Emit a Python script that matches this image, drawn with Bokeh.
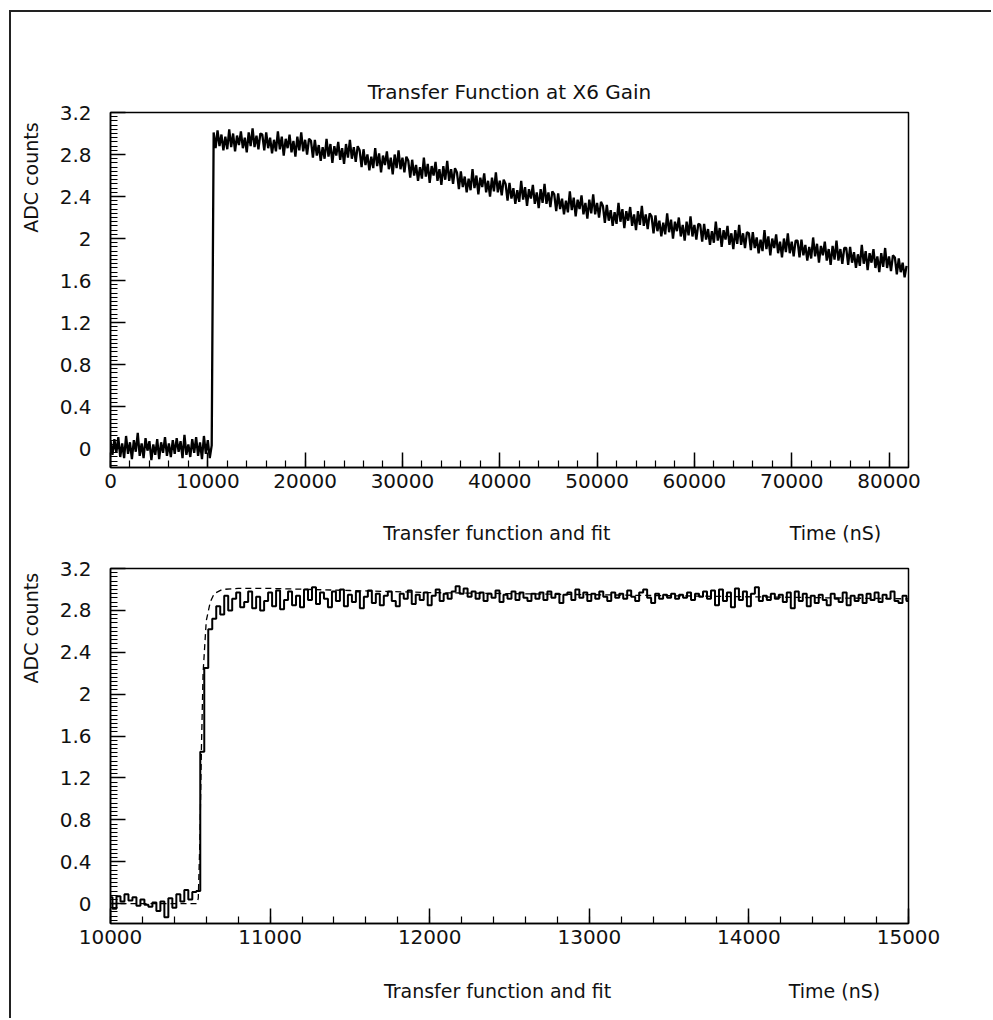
import numpy as np
from bokeh.plotting import figure
from bokeh.layouts import column
from bokeh.models import FixedTicker, LinearAxis, Range1d, Title
from bokeh.embed import file_html
from bokeh.resources import INLINE

FONT = "DejaVu Sans"

# ---------------- data ----------------
title_text = "Transfer Function at X6 Gain"
xlabel_text = "Transfer function and fit"
xunit_text = "Time (nS)"
ylabel_text = "ADC counts"

# Top panel: ADC counts sampled every 200 ns from t = 0
top_t0 = 0
top_dt = 200
top_baseline = [
    0.07, -0.06, 0.09, -0.04, 0.11, -0.08, 0.05, -0.09, 0.12, -0.05,
    0.06, -0.10, 0.08, -0.03, 0.15, -0.07, 0.05, -0.09, 0.10, -0.02,
    0.07, -0.11, 0.04, -0.06, 0.09, -0.10, 0.06, -0.04, 0.11, -0.07,
    0.05, -0.08, 0.08, -0.05, 0.10, -0.03, 0.07, -0.09, 0.13, -0.06,
    0.04, -0.08, 0.09, -0.04, 0.11, -0.07, 0.06, -0.10, 0.12, -0.05,
    0.08, -0.09, 0.03,
]
top_pulse = [
    3.01, 2.86, 3.03, 2.88, 2.99, 2.84, 2.97, 2.85, 3.04, 2.87, 3.00, 2.83, 2.98, 2.89, 3.02, 2.86, 2.96, 2.82, 3.01, 2.88, 3.05, 2.87, 2.98, 2.85, 3.00,
    2.99, 2.84, 3.01, 2.86, 2.96, 2.81, 2.94, 2.83, 3.02, 2.85, 2.97, 2.79, 2.95, 2.86, 2.99, 2.82, 2.93, 2.78, 2.97, 2.84, 3.01, 2.83, 2.94, 2.80, 2.95,
    2.93, 2.77, 2.94, 2.79, 2.89, 2.74, 2.87, 2.76, 2.95, 2.78, 2.90, 2.72, 2.88, 2.79, 2.92, 2.75, 2.86, 2.71, 2.90, 2.77, 2.94, 2.76, 2.87, 2.73, 2.88,
    2.84, 2.68, 2.85, 2.70, 2.80, 2.65, 2.78, 2.67, 2.86, 2.69, 2.81, 2.63, 2.79, 2.70, 2.83, 2.66, 2.77, 2.61, 2.80, 2.67, 2.84, 2.66, 2.77, 2.63, 2.78,
    2.74, 2.58, 2.75, 2.60, 2.70, 2.55, 2.68, 2.57, 2.77, 2.59, 2.71, 2.53, 2.69, 2.60, 2.73, 2.55, 2.66, 2.51, 2.69, 2.56, 2.74, 2.55, 2.66, 2.52, 2.67,
    2.63, 2.47, 2.64, 2.49, 2.59, 2.44, 2.57, 2.46, 2.66, 2.48, 2.60, 2.42, 2.58, 2.49, 2.62, 2.44, 2.55, 2.40, 2.58, 2.45, 2.63, 2.44, 2.55, 2.41, 2.56,
    2.52, 2.36, 2.53, 2.38, 2.48, 2.33, 2.46, 2.35, 2.55, 2.37, 2.49, 2.31, 2.47, 2.38, 2.51, 2.33, 2.44, 2.29, 2.47, 2.34, 2.52, 2.33, 2.44, 2.30, 2.45,
    2.42, 2.26, 2.43, 2.28, 2.38, 2.23, 2.36, 2.25, 2.45, 2.27, 2.39, 2.21, 2.37, 2.28, 2.41, 2.23, 2.34, 2.19, 2.37, 2.24, 2.42, 2.23, 2.34, 2.20, 2.35,
    2.31, 2.15, 2.32, 2.17, 2.27, 2.12, 2.25, 2.14, 2.34, 2.16, 2.28, 2.10, 2.26, 2.17, 2.30, 2.12, 2.23, 2.08, 2.26, 2.13, 2.31, 2.12, 2.23, 2.09, 2.24,
    2.21, 2.05, 2.22, 2.07, 2.17, 2.02, 2.15, 2.04, 2.24, 2.06, 2.18, 2.00, 2.16, 2.07, 2.20, 2.02, 2.13, 1.98, 2.16, 2.03, 2.21, 2.02, 2.13, 1.99, 2.14,
    2.13, 1.97, 2.14, 1.99, 2.09, 1.94, 2.07, 1.96, 2.16, 1.98, 2.10, 1.92, 2.08, 1.99, 2.12, 1.94, 2.05, 1.90, 2.08, 1.95, 2.13, 1.94, 2.05, 1.91, 2.06,
    2.05, 1.89, 2.06, 1.91, 2.01, 1.86, 1.99, 1.88, 2.08, 1.90, 2.02, 1.84, 2.00, 1.91, 2.04, 1.86, 1.97, 1.82, 2.00, 1.87, 2.05, 1.86, 1.97, 1.83, 1.98,
    1.98, 1.82, 1.99, 1.84, 1.94, 1.79, 1.92, 1.81, 2.01, 1.83, 1.95, 1.77, 1.93, 1.84, 1.97, 1.79, 1.90, 1.75, 1.93, 1.80, 1.98, 1.79, 1.90, 1.76, 1.91,
    1.91, 1.75, 1.92, 1.77, 1.87, 1.72, 1.85, 1.74, 1.94, 1.76, 1.88, 1.70, 1.86, 1.77, 1.90, 1.72, 1.83, 1.68, 1.86, 1.73, 1.91, 1.72, 1.83, 1.69, 1.84,
    1.82, 1.66, 1.81, 1.68, 1.77, 1.63, 1.74,
]
top_adc = top_baseline + top_pulse
top_time = [top_t0 + i * top_dt for i in range(len(top_adc))]

# Bottom panel: zoom on the rise, ADC counts every 25 ns from t = 10000
zoom_t0 = 10000
zoom_dt = 25
zoom_adc = [
    0.06, -0.05, 0.07, 0.02, 0.09, 0.03, 0.06, -0.02, 0.04, -0.01, -0.03, 0.01, -0.07, 0.02, -0.13, 0.05, -0.04, 0.09, 0.02, 0.13, 0.04, 0.11,
    0.12, 1.45, 2.25, 2.62, 2.72, 2.84, 2.76,
    2.94, 2.80, 2.91, 2.97, 2.83, 2.88, 2.98, 2.82, 2.93, 2.80, 2.89, 2.97, 2.84, 2.99, 2.81, 2.90, 2.98, 2.85, 2.94, 2.83,
    3.00, 2.90, 3.02, 2.86, 2.97, 2.91, 2.83, 2.98, 2.89, 3.00, 2.84, 2.95, 2.88, 2.98, 2.82, 2.93, 2.99, 2.87, 2.96, 2.85,
    2.94, 2.98, 2.89, 2.84, 2.96, 2.91, 2.99, 2.86, 2.95, 2.90, 2.97, 2.85, 2.94, 3.00, 2.89, 2.96, 2.91, 2.98, 3.03, 2.96,
    3.01, 2.93, 2.98, 2.91, 2.97, 2.89, 2.96, 2.92, 2.99, 2.88, 2.95, 2.91, 2.98, 2.90, 2.97, 2.92, 2.89, 2.96, 2.91, 2.97,
    2.90, 2.98, 2.92, 2.96, 2.87, 2.95, 2.97, 2.90, 3.00, 2.92, 2.97, 2.89, 2.96, 2.91, 2.98, 2.93, 2.89, 2.97, 2.92, 2.96,
    2.91, 2.99, 2.93, 2.89, 2.97, 3.00, 2.92, 2.87, 2.96, 2.91, 2.95, 2.92, 2.96, 2.91, 2.95, 2.92, 2.97, 2.90, 2.96, 2.93,
    2.98, 2.91, 2.99, 2.85, 3.00, 2.89, 2.97, 2.83, 3.01, 2.90, 2.98, 2.84, 2.96, 3.02, 2.89, 2.94, 2.90, 2.96, 2.91, 2.95,
    2.88, 2.97, 2.82, 2.98, 2.89, 2.96, 2.84, 2.94, 2.87, 2.95, 2.90, 2.85, 2.96, 2.91, 2.88, 2.97, 2.85, 2.94, 2.89, 2.95,
    2.87, 2.96, 2.90, 2.97, 2.88, 2.95, 2.91, 2.98, 2.89, 2.87, 2.94, 2.89,
]
zoom_time = [zoom_t0 + i * zoom_dt for i in range(len(zoom_adc))]

# Fit curve (dashed)
fit_time = [10000, 10540, 10550, 10560, 10570, 10580, 10600, 10625, 10650, 10700,
            10800, 11000, 11500, 12000, 12500, 13000, 13500, 14000, 14500, 15000]
fit_adc = [0.0, 0.0, 0.05, 0.6, 1.5, 2.2, 2.7, 2.88, 2.96, 3.0,
           3.01, 3.01, 2.99, 2.97, 2.96, 2.95, 2.94, 2.93, 2.92, 2.91]

# Ticks
y_major = [0, 0.4, 0.8, 1.2, 1.6, 2, 2.4, 2.8, 3.2]
y_major_labels = ["0", "0.4", "0.8", "1.2", "1.6", "2", "2.4", "2.8", "3.2"]
top_x_major = [0, 10000, 20000, 30000, 40000, 50000, 60000, 70000, 80000]
zoom_x_major = [10000, 11000, 12000, 13000, 14000, 15000]


def style(p, x_major, x_minor, y_minor):
    p.xaxis.ticker = FixedTicker(ticks=x_major, minor_ticks=x_minor)
    p.yaxis.ticker = FixedTicker(ticks=y_major, minor_ticks=y_minor)
    p.xaxis.major_label_overrides = {t: str(t) for t in x_major}
    p.yaxis.major_label_overrides = dict(zip(y_major, y_major_labels))
    for ax in (p.xaxis[0], p.yaxis[0]):
        ax.axis_line_width = 1.5
        ax.axis_line_color = "black"
        ax.major_tick_line_width = 1.5
        ax.minor_tick_line_width = 1.2
        ax.major_tick_line_color = "black"
        ax.minor_tick_line_color = "black"
        ax.major_tick_in = 15
        ax.major_tick_out = 0
        ax.minor_tick_in = 7
        ax.minor_tick_out = 0
        ax.major_label_text_font = FONT
        ax.major_label_text_font_size = "20px"
        ax.major_label_text_color = "#111111"
    p.xaxis.major_label_standoff = 6
    p.yaxis.major_label_standoff = 19
    p.xgrid.visible = False
    p.ygrid.visible = False
    p.outline_line_color = "black"
    p.outline_line_width = 1.5
    p.background_fill_color = "white"
    p.border_fill_color = "white"


def text_axis(p, side, anchors, labels, standoff, orientation="horizontal"):
    """An axis without line or ticks, used only to set text labels beside the frame."""
    ax = LinearAxis(ticker=FixedTicker(ticks=anchors, minor_ticks=[]),
                    major_label_overrides=dict(zip(anchors, labels)),
                    axis_line_color=None, major_tick_line_color=None,
                    minor_tick_line_color=None, major_tick_in=0, major_tick_out=0,
                    major_label_standoff=standoff, major_label_orientation=orientation,
                    major_label_text_font=FONT, major_label_text_font_size="19px",
                    major_label_text_color="#111111")
    p.add_layout(ax, side)


# ---------------- top figure ----------------
p1 = figure(width=980, height=539, min_border_left=99, min_border_right=83,
            min_border_top=100, min_border_bottom=84,
            x_range=Range1d(0, 82000), y_range=Range1d(-0.18, 3.2),
            output_backend="svg", toolbar_location=None)
p1.title = Title(text=title_text, align="center", text_font=FONT, standoff=18,
                 text_font_size="20px", text_font_style="normal", text_color="#111111")
style(p1, top_x_major, [2000 * i for i in range(42)],
      [round(-0.16 + 0.04 * i, 2) for i in range(85)])
p1.line(top_time, top_adc, line_color="black", line_width=2.3)
text_axis(p1, "below", [39700, 74500], [xlabel_text, xunit_text], 31)
text_axis(p1, "left", [2.58], [ylabel_text], 14, "vertical")

# ---------------- bottom figure ----------------
p2 = figure(width=980, height=467, min_border_left=99, min_border_right=83,
            min_border_top=17, min_border_bottom=95,
            x_range=Range1d(10000, 15000), y_range=Range1d(-0.19, 3.2),
            output_backend="svg", toolbar_location=None)
style(p2, zoom_x_major, [10000 + 200 * i for i in range(26)],
      [round(-0.16 + 0.04 * i, 2) for i in range(85)])
p2.line(fit_time, fit_adc, line_color="black", line_width=1.3, line_dash="6 4")
p2.step(zoom_time, zoom_adc, mode="center", line_color="black", line_width=2)
text_axis(p2, "below", [12425, 14536], [xlabel_text, xunit_text], 33)
text_axis(p2, "left", [2.63], [ylabel_text], 14, "vertical")

layout = column(p1, p2, margin=(10, 0, 0, 9),
                styles={"border-left": "2px solid #222", "border-top": "2px solid #222"})

open("out.html", "w").write(file_html(layout, INLINE))
